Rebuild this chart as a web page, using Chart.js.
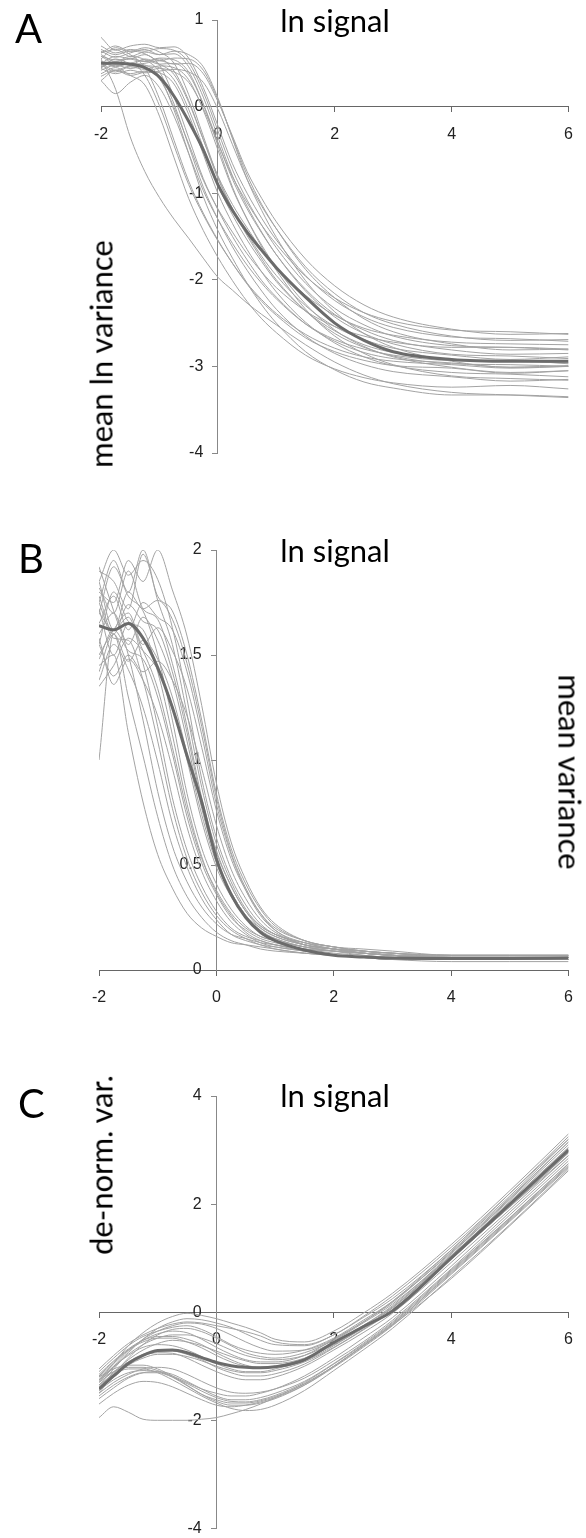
<!DOCTYPE html>
<html>
<head>
<meta charset="utf-8">
<script src="https://cdn.jsdelivr.net/npm/chart.js@4.4.1/dist/chart.umd.min.js"></script>
<style>
  body { margin: 0; background: #fff; width: 586px; height: 1538px; position: relative; overflow: hidden; }
  canvas { position: absolute; left: 0; }
  .txt { position: absolute; font-family: Lato, "Noto Sans", sans-serif; color: #000; white-space: nowrap; line-height: 1; }
  .panel { font-size: 40px; }
  .top { font-size: 31px; transform: translateX(-50%); }
  .ylab { font-size: 31px; transform: translate(-50%, -50%) rotate(-90deg); }
  .ylab.right { transform: translate(-50%, -50%) rotate(90deg); }
</style>
</head>
<body>
<canvas id="chartA" width="586" height="500" style="top:0px"></canvas>
<canvas id="chartB" width="586" height="519" style="top:500px"></canvas>
<canvas id="chartC" width="586" height="519" style="top:1019px"></canvas>

<div class="txt panel" style="left:15px;top:8px">A</div>
<div class="txt panel" style="left:18px;top:538px">B</div>
<div class="txt panel" style="left:18px;top:1083px">C</div>

<div class="txt top" style="left:335px;top:5px">ln signal</div>
<div class="txt top" style="left:335px;top:535px">ln signal</div>
<div class="txt top" style="left:335px;top:1080px">ln signal</div>

<div class="txt ylab" style="left:101px;top:354px">mean ln variance</div>
<div class="txt ylab right" style="left:570px;top:772px">mean variance</div>
<div class="txt ylab" style="left:101px;top:1165px">de-norm. var.</div>

<script>
// x positions (ln signal) shared by every curve
const xVals = [-2, -1.75, -1.5, -1.25, -1, -0.75, -0.5, -0.25, 0, 0.25, 0.5, 0.75, 1, 1.5, 2, 2.5, 3, 4, 5, 6];
const xTicks = [-2, 0, 2, 4, 6];

// panel A: mean ln variance
const meanA = [0.5, 0.5, 0.49, 0.45, 0.34, 0.12, -0.17, -0.5, -0.9, -1.2, -1.45, -1.66, -1.86, -2.2, -2.5, -2.7, -2.83, -2.92, -2.94, -2.94];
const curvesA = [
  [0.55, 0.2, -0.35, -0.75, -1.05, -1.3, -1.52, -1.75, -1.97, -2.12, -2.27, -2.4, -2.52, -2.75, -2.95, -3.1, -3.2, -3.3, -3.33, -3.36],
  [0.38, 0.45, 0.36, 0.25, -0.11, -0.59, -1.06, -1.43, -1.74, -2.01, -2.25, -2.45, -2.61, -2.87, -3.03, -3.13, -3.19, -3.24, -3.22, -3.26],
  [0.55, 0.68, 0.6, 0.45, 0.09, -0.39, -0.86, -1.23, -1.54, -1.81, -2.05, -2.25, -2.41, -2.67, -2.83, -2.93, -2.99, -3.02, -3.08, -3.05],
  [0.3, 0.15, 0.28, 0.36, 0.22, -0.11, -0.54, -0.97, -1.3, -1.58, -1.83, -2.04, -2.22, -2.51, -2.69, -2.8, -2.87, -2.93, -2.93, -2.97],
  [0.6, 0.52, 0.58, 0.54, 0.4, 0.03, -0.45, -0.93, -1.3, -1.62, -1.89, -2.13, -2.34, -2.65, -2.85, -2.98, -3.06, -3.12, -3.17, -3.15],
  [0.5, 0.42, 0.47, 0.44, 0.32, -0.01, -0.43, -0.85, -1.18, -1.45, -1.7, -1.91, -2.09, -2.36, -2.54, -2.65, -2.72, -2.78, -2.78, -2.8],
  [0.62, 0.7, 0.64, 0.68, 0.63, 0.5, 0.14, -0.34, -0.81, -1.18, -1.49, -1.76, -2.0, -2.36, -2.62, -2.78, -2.88, -2.97, -2.98, -3.0],
  [0.45, 0.52, 0.48, 0.55, 0.49, 0.37, 0.05, -0.38, -0.8, -1.13, -1.4, -1.65, -1.86, -2.18, -2.41, -2.56, -2.64, -2.72, -2.74, -2.75],
  [0.35, 0.42, 0.38, 0.41, 0.39, 0.26, -0.09, -0.55, -1.0, -1.35, -1.65, -1.91, -2.14, -2.49, -2.73, -2.89, -2.99, -3.07, -3.09, -3.12],
  [0.58, 0.5, 0.56, 0.52, 0.55, 0.41, 0.07, -0.38, -0.83, -1.18, -1.47, -1.73, -1.95, -2.3, -2.54, -2.69, -2.79, -2.87, -2.92, -2.89],
  [0.64, 0.57, 0.62, 0.66, 0.6, 0.61, 0.46, 0.11, -0.35, -0.8, -1.15, -1.45, -1.71, -2.13, -2.43, -2.62, -2.74, -2.86, -2.88, -2.91],
  [0.48, 0.4, 0.46, 0.43, 0.47, 0.45, 0.31, -0.04, -0.5, -0.95, -1.3, -1.6, -1.86, -2.28, -2.58, -2.77, -2.89, -3.01, -3.07, -3.05],
  [0.8, 0.65, 0.7, 0.72, 0.68, 0.69, 0.56, 0.22, -0.22, -0.66, -1.0, -1.29, -1.54, -1.95, -2.24, -2.43, -2.55, -2.66, -2.68, -2.71],
  [0.52, 0.47, 0.5, 0.54, 0.49, 0.5, 0.37, 0.03, -0.41, -0.84, -1.18, -1.46, -1.71, -2.11, -2.4, -2.58, -2.7, -2.81, -2.86, -2.85],
  [0.58, 0.54, 0.55, 0.6, 0.53, 0.56, 0.55, 0.42, 0.08, -0.36, -0.79, -1.13, -1.41, -1.88, -2.21, -2.45, -2.6, -2.74, -2.81, -2.8],
  [0.46, 0.52, 0.48, 0.5, 0.53, 0.49, 0.5, 0.38, 0.06, -0.34, -0.75, -1.06, -1.33, -1.76, -2.07, -2.29, -2.43, -2.57, -2.63, -2.62],
  [0.62, 0.66, 0.58, 0.63, 0.6, 0.64, 0.6, 0.46, 0.1, -0.37, -0.84, -1.2, -1.51, -2.01, -2.37, -2.62, -2.78, -2.94, -3.01, -3.0],
  [0.45, 0.55, 0.5, 0.48, 0.35, -0.04, -0.54, -1.04, -1.43, -1.75, -2.04, -2.29, -2.5, -2.83, -3.04, -3.18, -3.25, -3.33, -3.33, -3.35],
  [0.3, 0.42, 0.36, 0.4, 0.44, 0.4, 0.28, -0.02, -0.42, -0.81, -1.11, -1.37, -1.59, -1.96, -2.21, -2.38, -2.48, -2.58, -2.6, -2.63],
  [0.66, 0.6, 0.64, 0.61, 0.48, 0.11, -0.36, -0.83, -1.19, -1.5, -1.77, -2.01, -2.2, -2.51, -2.71, -2.84, -2.91, -2.96, -3.01, -2.99],
  [0.42, 0.48, 0.44, 0.47, 0.45, 0.31, -0.03, -0.47, -0.91, -1.25, -1.54, -1.79, -2.02, -2.36, -2.59, -2.75, -2.84, -2.92, -2.94, -2.96],
  [0.5, 0.58, 0.55, 0.52, 0.56, 0.54, 0.4, 0.03, -0.45, -0.93, -1.3, -1.62, -1.89, -2.34, -2.65, -2.85, -2.98, -3.11, -3.14, -3.16],
  [0.44, 0.38, 0.42, 0.39, 0.41, 0.43, 0.4, 0.28, -0.03, -0.44, -0.84, -1.15, -1.41, -1.85, -2.16, -2.38, -2.51, -2.65, -2.7, -2.69],
  [0.52, 0.46, 0.5, 0.36, 0.01, -0.45, -0.9, -1.25, -1.55, -1.81, -2.04, -2.23, -2.39, -2.63, -2.79, -2.89, -2.94, -2.98, -3.02, -3.0],
  [0.7, 0.62, 0.66, 0.64, 0.67, 0.65, 0.51, 0.17, -0.28, -0.73, -1.08, -1.37, -1.63, -2.04, -2.33, -2.52, -2.65, -2.76, -2.78, -2.81]
];

// panel B: mean variance
const meanB = [1.64, 1.62, 1.65, 1.58, 1.44, 1.25, 1.02, 0.8, 0.53, 0.36, 0.25, 0.18, 0.14, 0.095, 0.07, 0.062, 0.057, 0.055, 0.055, 0.057];
const curvesB = [
  [1.45, 1.5, 1.13, 0.8, 0.55, 0.39, 0.27, 0.2, 0.16, 0.13, 0.12, 0.11, 0.1, 0.08, 0.07, 0.06, 0.06, 0.06, 0.05, 0.06],
  [1.0, 1.6, 1.3, 1.02, 0.73, 0.5, 0.35, 0.25, 0.18, 0.14, 0.12, 0.1, 0.09, 0.08, 0.07, 0.06, 0.05, 0.05, 0.05, 0.05],
  [1.85, 1.62, 1.68, 1.46, 1.16, 0.82, 0.57, 0.4, 0.28, 0.2, 0.16, 0.14, 0.12, 0.1, 0.08, 0.07, 0.06, 0.06, 0.06, 0.06],
  [1.38, 1.55, 1.43, 1.25, 0.99, 0.7, 0.49, 0.34, 0.24, 0.17, 0.14, 0.12, 0.1, 0.08, 0.07, 0.06, 0.05, 0.05, 0.05, 0.05],
  [1.7, 1.92, 1.78, 1.71, 1.5, 1.19, 0.84, 0.58, 0.41, 0.29, 0.21, 0.16, 0.14, 0.11, 0.09, 0.08, 0.07, 0.06, 0.06, 0.06],
  [1.72, 1.5, 1.65, 1.52, 1.34, 1.06, 0.76, 0.53, 0.38, 0.27, 0.2, 0.16, 0.14, 0.11, 0.1, 0.09, 0.08, 0.07, 0.07, 0.07],
  [1.58, 1.36, 1.48, 1.38, 1.21, 0.96, 0.68, 0.47, 0.33, 0.23, 0.17, 0.13, 0.11, 0.09, 0.07, 0.06, 0.06, 0.05, 0.05, 0.05],
  [1.75, 1.95, 1.8, 2.0, 1.76, 1.55, 1.22, 0.87, 0.6, 0.42, 0.29, 0.21, 0.17, 0.12, 0.1, 0.08, 0.07, 0.06, 0.06, 0.06],
  [1.6, 1.7, 1.55, 1.68, 1.57, 1.38, 1.09, 0.77, 0.53, 0.37, 0.26, 0.19, 0.15, 0.11, 0.09, 0.07, 0.06, 0.05, 0.05, 0.05],
  [1.42, 1.6, 1.47, 1.57, 1.48, 1.3, 1.03, 0.74, 0.51, 0.37, 0.26, 0.2, 0.16, 0.12, 0.1, 0.09, 0.08, 0.07, 0.07, 0.07],
  [1.82, 1.7, 1.9, 1.72, 1.67, 1.46, 1.16, 0.82, 0.57, 0.4, 0.28, 0.2, 0.16, 0.12, 0.1, 0.08, 0.07, 0.06, 0.06, 0.06],
  [1.8, 1.75, 1.95, 1.85, 2.0, 1.81, 1.59, 1.26, 0.89, 0.61, 0.43, 0.3, 0.22, 0.14, 0.11, 0.09, 0.08, 0.06, 0.06, 0.06],
  [1.65, 1.78, 1.62, 1.75, 1.68, 1.62, 1.42, 1.12, 0.79, 0.55, 0.38, 0.26, 0.19, 0.12, 0.1, 0.08, 0.07, 0.05, 0.05, 0.05],
  [1.5, 1.62, 1.7, 1.55, 1.63, 1.52, 1.34, 1.06, 0.76, 0.53, 0.38, 0.27, 0.2, 0.14, 0.11, 0.1, 0.09, 0.07, 0.07, 0.07],
  [1.9, 1.85, 1.72, 1.98, 1.78, 1.71, 1.5, 1.19, 0.84, 0.58, 0.41, 0.29, 0.21, 0.14, 0.11, 0.09, 0.08, 0.06, 0.06, 0.06],
  [1.55, 1.8, 1.66, 1.62, 1.42, 1.12, 0.79, 0.54, 0.37, 0.26, 0.18, 0.14, 0.12, 0.09, 0.07, 0.06, 0.05, 0.04, 0.04, 0.04],
  [1.35, 1.45, 1.58, 1.52, 1.43, 1.26, 1.0, 0.71, 0.49, 0.35, 0.25, 0.18, 0.15, 0.11, 0.09, 0.08, 0.07, 0.06, 0.06, 0.06],
  [1.92, 1.71, 1.5, 1.19, 0.85, 0.59, 0.42, 0.3, 0.22, 0.17, 0.15, 0.13, 0.12, 0.1, 0.09, 0.08, 0.07, 0.07, 0.07, 0.07],
  [1.85, 2.0, 1.88, 1.95, 1.86, 1.63, 1.29, 0.91, 0.63, 0.44, 0.31, 0.22, 0.17, 0.13, 0.1, 0.09, 0.07, 0.06, 0.06, 0.06],
  [1.7, 1.62, 1.8, 1.72, 1.76, 1.67, 1.46, 1.16, 0.82, 0.56, 0.39, 0.27, 0.19, 0.13, 0.1, 0.08, 0.07, 0.05, 0.05, 0.05],
  [1.48, 1.62, 1.52, 1.48, 1.3, 1.03, 0.73, 0.51, 0.36, 0.25, 0.19, 0.15, 0.13, 0.1, 0.09, 0.08, 0.07, 0.06, 0.06, 0.06],
  [1.78, 1.6, 1.74, 1.66, 1.62, 1.42, 1.13, 0.8, 0.56, 0.4, 0.28, 0.21, 0.17, 0.13, 0.11, 0.09, 0.08, 0.07, 0.07, 0.07],
  [1.55, 1.4, 1.5, 1.42, 1.47, 1.38, 1.21, 0.96, 0.69, 0.48, 0.34, 0.24, 0.18, 0.12, 0.1, 0.08, 0.07, 0.06, 0.06, 0.06],
  [1.75, 1.58, 1.57, 1.38, 1.09, 0.77, 0.53, 0.37, 0.26, 0.19, 0.15, 0.12, 0.11, 0.09, 0.07, 0.06, 0.05, 0.05, 0.05, 0.05]
];

// panel C: de-normalised variance
const meanC = [-1.42, -1.18, -0.95, -0.8, -0.71, -0.7, -0.75, -0.84, -0.93, -0.99, -1.02, -1.03, -1.01, -0.88, -0.56, -0.27, 0.02, 1.0, 2.0, 3.0];
const curvesC = [
  [-1.25, -0.95, -0.62, -0.38, -0.2, -0.08, -0.02, -0.06, -0.12, -0.2, -0.28, -0.38, -0.5, -0.55, -0.35, -0.02, 0.35, 1.25, 2.25, 3.3],
  [-1.35, -1.05, -0.75, -0.5, -0.3, -0.18, -0.12, -0.14, -0.2, -0.28, -0.4, -0.52, -0.6, -0.62, -0.42, -0.1, 0.25, 1.15, 2.2, 3.2],
  [-1.1, -0.85, -0.62, -0.45, -0.35, -0.28, -0.25, -0.32, -0.45, -0.6, -0.7, -0.76, -0.78, -0.7, -0.48, -0.15, 0.2, 1.1, 2.1, 3.15],
  [-1.5, -1.15, -0.85, -0.6, -0.42, -0.32, -0.3, -0.36, -0.48, -0.62, -0.75, -0.82, -0.85, -0.75, -0.52, -0.2, 0.15, 1.05, 2.05, 3.05],
  [-1.3, -1.02, -0.78, -0.6, -0.48, -0.42, -0.42, -0.48, -0.58, -0.7, -0.8, -0.86, -0.88, -0.8, -0.55, -0.25, 0.1, 1.05, 2.0, 3.0],
  [-1.2, -0.95, -0.7, -0.52, -0.4, -0.35, -0.38, -0.5, -0.65, -0.78, -0.88, -0.92, -0.92, -0.8, -0.5, -0.18, 0.2, 1.15, 2.15, 3.2],
  [-1.4, -1.12, -0.88, -0.7, -0.58, -0.52, -0.55, -0.62, -0.72, -0.82, -0.9, -0.95, -0.95, -0.85, -0.6, -0.3, 0.05, 1.0, 1.95, 2.95],
  [-1.15, -0.9, -0.68, -0.52, -0.45, -0.45, -0.5, -0.6, -0.75, -0.88, -0.98, -1.02, -1.02, -0.9, -0.62, -0.28, 0.08, 1.02, 2.0, 3.05],
  [-1.45, -1.2, -0.98, -0.85, -0.78, -0.78, -0.82, -0.9, -1.0, -1.08, -1.12, -1.12, -1.08, -0.92, -0.65, -0.32, 0.05, 1.0, 1.95, 2.9],
  [-1.3, -1.1, -0.92, -0.8, -0.75, -0.76, -0.85, -0.98, -1.1, -1.2, -1.25, -1.25, -1.2, -1.0, -0.7, -0.38, -0.02, 0.92, 1.9, 2.9],
  [-1.25, -1.0, -0.8, -0.65, -0.6, -0.62, -0.7, -0.82, -0.95, -1.05, -1.1, -1.1, -1.05, -0.88, -0.58, -0.25, 0.12, 1.08, 2.08, 3.1],
  [-1.5, -1.3, -1.15, -1.05, -1.02, -1.05, -1.15, -1.28, -1.4, -1.48, -1.5, -1.48, -1.42, -1.22, -0.9, -0.55, -0.15, 0.8, 1.8, 2.8],
  [-1.6, -1.4, -1.22, -1.12, -1.1, -1.15, -1.28, -1.42, -1.55, -1.62, -1.62, -1.58, -1.5, -1.28, -0.95, -0.58, -0.18, 0.78, 1.75, 2.75],
  [-1.2, -1.05, -0.98, -0.98, -1.05, -1.18, -1.35, -1.52, -1.65, -1.72, -1.72, -1.68, -1.6, -1.35, -1.0, -0.62, -0.22, 0.72, 1.7, 2.7],
  [-1.7, -1.5, -1.35, -1.28, -1.3, -1.38, -1.5, -1.62, -1.72, -1.75, -1.72, -1.66, -1.58, -1.35, -1.02, -0.65, -0.25, 0.7, 1.68, 2.68],
  [-1.95, -1.75, -1.85, -1.98, -2.0, -2.0, -2.0, -1.98, -1.95, -1.88, -1.8, -1.7, -1.58, -1.32, -1.0, -0.62, -0.24, 0.62, 1.6, 2.62],
  [-1.35, -1.15, -1.05, -1.05, -1.12, -1.25, -1.4, -1.55, -1.68, -1.78, -1.82, -1.8, -1.72, -1.45, -1.08, -0.7, -0.3, 0.65, 1.62, 2.65],
  [-1.45, -1.25, -1.12, -1.08, -1.1, -1.18, -1.3, -1.42, -1.5, -1.55, -1.55, -1.5, -1.42, -1.18, -0.85, -0.48, -0.1, 0.85, 1.85, 2.85],
  [-1.28, -1.0, -0.72, -0.5, -0.35, -0.25, -0.2, -0.22, -0.3, -0.42, -0.55, -0.66, -0.72, -0.7, -0.5, -0.18, 0.18, 1.12, 2.12, 3.15],
  [-1.18, -0.92, -0.7, -0.55, -0.48, -0.48, -0.55, -0.66, -0.8, -0.92, -1.0, -1.02, -1.0, -0.86, -0.6, -0.28, 0.08, 1.04, 2.02, 3.02],
  [-1.38, -1.12, -0.92, -0.78, -0.72, -0.72, -0.78, -0.88, -1.02, -1.12, -1.18, -1.18, -1.14, -0.96, -0.66, -0.33, 0.03, 0.98, 1.96, 2.95],
  [-1.55, -1.35, -1.2, -1.12, -1.12, -1.2, -1.32, -1.46, -1.58, -1.65, -1.66, -1.62, -1.54, -1.3, -0.96, -0.6, -0.2, 0.76, 1.74, 2.75],
  [-1.25, -1.1, -1.02, -1.02, -1.08, -1.2, -1.36, -1.52, -1.62, -1.68, -1.68, -1.64, -1.56, -1.33, -1.0, -0.63, -0.23, 0.74, 1.72, 2.72],
  [-1.05, -0.8, -0.58, -0.42, -0.3, -0.22, -0.18, -0.2, -0.25, -0.3, -0.36, -0.44, -0.55, -0.6, -0.42, -0.08, 0.3, 1.2, 2.2, 3.25]
];

const tickFont = { family: "'Liberation Sans', Arial, sans-serif", size: 16 };

function toPoints(vals) {
  return vals.map((v, i) => ({ x: xVals[i], y: v }));
}

function makeChart(id, mean, curves, yMin, yMax, yStep, pad) {
  // mean first so it is drawn on top of the thin curves
  const datasets = [{ data: toPoints(mean), borderColor: "#6b6b6b", borderWidth: 3 }];
  curves.forEach(c => {
    datasets.push({ data: toPoints(c), borderColor: "#a3a3a3", borderWidth: 1 });
  });

  new Chart(document.getElementById(id), {
    type: "line",
    data: { datasets },
    options: {
      responsive: false,
      animation: false,
      events: [],
      layout: { padding: pad },
      elements: {
        point: { radius: 0 },
        line: { cubicInterpolationMode: "monotone" }
      },
      plugins: { legend: { display: false }, tooltip: { enabled: false } },
      scales: {
        x: {
          type: "linear",
          min: -2,
          max: 6,
          position: { y: 0 },
          afterFit: s => { s.height = 0; },
          afterBuildTicks: s => { s.ticks = xTicks.map(v => ({ value: v })); },
          border: { color: "#666", width: 1 },
          grid: { display: true, drawOnChartArea: false, drawTicks: true, tickLength: 5, color: "#666" },
          ticks: { font: tickFont, color: "#222", padding: 13, maxRotation: 0, autoSkip: false, callback: v => String(v) }
        },
        y: {
          type: "linear",
          min: yMin,
          max: yMax,
          position: { x: 0 },
          afterFit: s => { s.width = 0; },
          border: { color: "#888", width: 1 },
          grid: { display: true, drawOnChartArea: false, drawTicks: true, tickLength: 5, color: "#888" },
          ticks: { display: false, stepSize: yStep }
        },
        // labels of the vertical axis, set a little to the left of x = 0
        yLab: {
          type: "linear",
          axis: "y",
          min: yMin,
          max: yMax,
          position: { x: -0.25 },
          afterFit: s => { s.width = 0; },
          border: { display: false },
          grid: { display: false, drawTicks: false },
          ticks: { stepSize: yStep, font: tickFont, color: "#222", padding: 0, callback: v => String(v) }
        }
      }
    }
  });
}

makeChart("chartA", meanA, curvesA, -4, 1, 1, { left: 101, right: 14, top: 20, bottom: 47 });
makeChart("chartB", meanB, curvesB, 0, 2, 0.5, { left: 99, right: 15, top: 50, bottom: 49 });
makeChart("chartC", meanC, curvesC, -4, 4, 2, { left: 99, right: 15, top: 77, bottom: 8 });
</script>
</body>
</html>
